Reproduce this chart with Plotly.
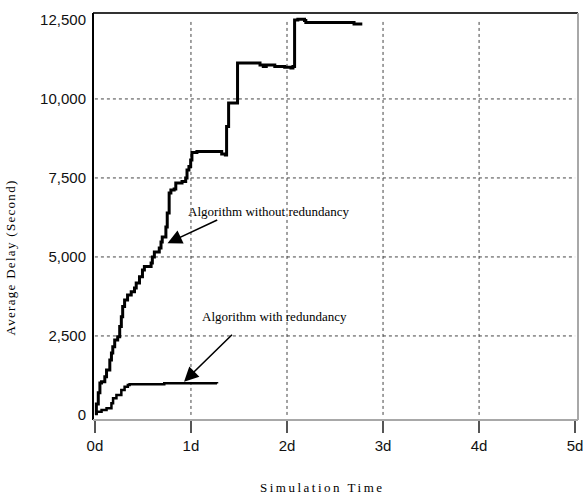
import plotly.graph_objects as go

# Average delay over simulation time (days), stepped traces
t_without = [0.0, 0.015, 0.035, 0.052, 0.069, 0.103, 0.121, 0.155, 0.172, 0.186, 0.206, 0.237,
             0.258, 0.275, 0.289, 0.309, 0.340, 0.378, 0.412, 0.430, 0.464, 0.495,
             0.515, 0.567, 0.585, 0.598, 0.619, 0.670, 0.688, 0.701, 0.739, 0.753,
             0.773, 0.791, 0.825, 0.842, 0.894, 0.907, 0.945, 0.959, 0.979, 0.997,
             1.010, 1.062, 1.320, 1.358, 1.371, 1.392, 1.474, 1.485, 1.598, 1.719,
             1.753, 1.784, 1.856, 1.873, 1.976, 2.041, 2.062, 2.079, 2.113, 2.182,
             2.196, 2.680, 2.698, 2.784]
d_without = [63, 350, 700, 1013, 1054, 1212, 1424, 1741, 1962, 2162, 2374, 2478,
             2795, 3111, 3428, 3640, 3798, 3902, 4020, 4178, 4377, 4589,
             4694, 4694, 4811, 5000, 5159, 5285, 5475, 5634, 5950, 6393,
             7026, 7121, 7153, 7343, 7343, 7384, 7501, 7754, 7859, 8071,
             8302, 8334, 8261, 8229, 9125, 9875, 9875, 11141, 11141, 11078,
             11024, 11078, 11078, 11024, 11005, 10983, 11024, 12502, 12524, 12480,
             12416, 12416, 12375, 12375]

t_with = [0.0, 0.018, 0.069, 0.121, 0.155, 0.172, 0.189, 0.224, 0.275, 0.309,
          0.343, 0.361, 0.704, 0.722, 1.271]
d_with = [30, 104, 158, 212, 212, 370, 528, 633, 791, 896,
          950, 972, 972, 1003, 994]

x_tick_vals = [0, 1, 2, 3, 4, 5]
x_tick_text = ["0d", "1d", "2d", "3d", "4d", "5d"]
y_tick_vals = [0, 2500, 5000, 7500, 10000, 12500]

fig = go.Figure()
fig.add_trace(go.Scatter(x=t_without, y=d_without, mode="lines",
                         line=dict(color="black", width=3, shape="hv"),
                         showlegend=False))
fig.add_trace(go.Scatter(x=t_with, y=d_with, mode="lines",
                         line=dict(color="black", width=2.5, shape="hv"),
                         showlegend=False))

shapes = []
# dotted grid
for xv in x_tick_vals[1:-1]:
    shapes.append(dict(type="line", xref="x", yref="y", x0=xv, x1=xv, y0=0, y1=12500,
                       line=dict(color="#444", width=1, dash="dot"), layer="below"))
for yv in y_tick_vals[1:-1]:
    shapes.append(dict(type="line", xref="x", yref="y", x0=0, x1=5, y0=yv, y1=yv,
                       line=dict(color="#444", width=1, dash="dot"), layer="below"))
# frame: dark top/left, light bottom/right
shapes += [
    dict(type="line", xref="paper", yref="paper", x0=0, x1=1, y0=1, y1=1,
         line=dict(color="#333", width=2)),
    dict(type="line", xref="paper", yref="paper", x0=0, x1=0, y0=0, y1=1,
         line=dict(color="black", width=2)),
    dict(type="line", xref="paper", yref="paper", x0=0, x1=1, y0=0, y1=0,
         line=dict(color="#a8a8a8", width=2)),
    dict(type="line", xref="paper", yref="paper", x0=1, x1=1, y0=0, y1=1,
         line=dict(color="#a8a8a8", width=2)),
]

serif = "Liberation Serif, Times New Roman, serif"
annotations = [
    dict(x=1.814, y=6434, xref="x", yref="y", text="Algorithm without redundancy",
         showarrow=False, font=dict(family=serif, size=13, color="black")),
    dict(x=1.865, y=3111, xref="x", yref="y", text="Algorithm with redundancy",
         showarrow=False, font=dict(family=serif, size=13, color="black")),
    dict(x=0.756, y=5435, xref="x", yref="y", ax=1.289, ay=6194, axref="x", ayref="y",
         text="", showarrow=True, arrowhead=2, arrowsize=1.8, arrowwidth=1.6,
         arrowcolor="black"),
    dict(x=0.928, y=1054, xref="x", yref="y", ax=1.443, ay=2586, axref="x", ayref="y",
         text="", showarrow=True, arrowhead=2, arrowsize=1.8, arrowwidth=1.6,
         arrowcolor="black"),
    dict(x=0.473, y=-0.165, xref="paper", yref="paper", yanchor="middle",
         text="<span style='letter-spacing:2.5px'>Simulation Time</span>",
         showarrow=False, font=dict(family=serif, size=13, color="black")),
    dict(x=-0.19, y=0.40, xref="paper", yref="paper", textangle=-90,
         text="<span style='letter-spacing:1.3px'>Average Delay (Second)</span>",
         showarrow=False, font=dict(family=serif, size=13, color="black")),
]

fig.update_layout(
    width=588, height=495,
    margin=dict(l=93, r=5, t=13, b=75),
    paper_bgcolor="white", plot_bgcolor="white",
    font=dict(family="Liberation Sans, Arial, sans-serif", size=15, color="#111"),
    xaxis=dict(range=[-0.02, 5.03], tickvals=x_tick_vals, ticktext=x_tick_text,
               showgrid=False, zeroline=False, showline=False,
               ticks="outside", ticklen=12, tickwidth=2, tickcolor="#555",
               ticklabeloverflow="allow"),
    yaxis=dict(range=[-160, 12720], tickvals=y_tick_vals, tickformat=",d",
               showgrid=False, zeroline=False, showline=False,
               ticks="", ticklabelstandoff=6),
    shapes=shapes,
    annotations=annotations,
)

fig.write_html("out.html")
